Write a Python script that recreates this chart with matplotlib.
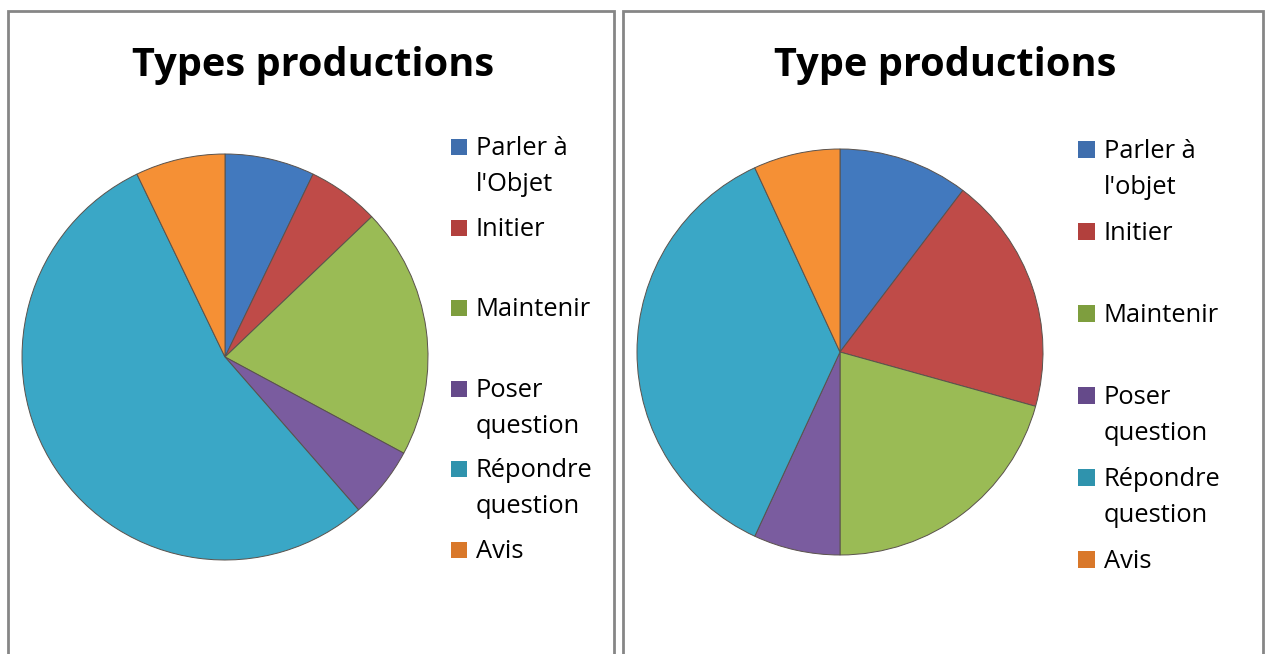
import matplotlib
matplotlib.use("Agg")
import matplotlib.pyplot as plt
from matplotlib.patches import Rectangle

categories_left = ["Parler à\nl'Objet", "Initier", "Maintenir", "Poser\nquestion", "Répondre\nquestion", "Avis"]
categories_right = ["Parler à\nl'objet", "Initier", "Maintenir", "Poser\nquestion", "Répondre\nquestion", "Avis"]
values_left = [5, 4, 14, 4, 38, 5]
values_right = [6, 11, 12, 4, 21, 4]
title_left = "Types productions"
title_right = "Type productions"
colors = ["#4279BE", "#BF4B48", "#9ABB55", "#7A5C9F", "#3AA7C6", "#F59035"]
marker_colors = ["#3F6EAD", "#B2403D", "#7E9E3E", "#654A8A", "#2F93AD", "#D9782A"]

W, H = 1265, 654
fig = plt.figure(figsize=(W / 100, H / 100), dpi=100)
fig.patch.set_facecolor("white")
FONT = "Open Sans"


def px_rect(x0, y0, x1, y1):
    return [x0 / W, 1 - y1 / H, (x1 - x0) / W, (y1 - y0) / H]


# panel frames
for (x0, x1) in [(8, 614), (623, 1263)]:
    fig.patches.append(Rectangle((x0 / W, -0.05), (x1 - x0) / W, 1 - 11 / H + 0.05,
                                 transform=fig.transFigure, fill=False,
                                 edgecolor="#868686", linewidth=2))


def draw_panel(cx, cy, r, values, labels, title, title_x, leg_x, msize, leg_y0, leg_dy):
    ax = fig.add_axes(px_rect(cx - r, cy - r, cx + r, cy + r))
    ax.pie(values, colors=colors, startangle=90, counterclock=False,
           radius=1.0, wedgeprops=dict(linewidth=0.7, edgecolor="#5a524c"))
    ax.set_xlim(-1.0, 1.0)
    ax.set_ylim(-1.0, 1.0)
    ax.set_aspect("equal")
    ax.axis("off")
    fig.text(title_x / W, 1 - 76 / H, title, ha="center", va="baseline",
             fontsize=28.6, fontweight="bold", family=FONT)
    for i, (lab, c) in enumerate(zip(labels, marker_colors)):
        base = leg_y0 + i * leg_dy
        fig.patches.append(Rectangle((leg_x / W, 1 - base / H), msize / W, msize / H,
                                     transform=fig.transFigure, facecolor=c,
                                     edgecolor="none"))
        for j, line in enumerate(lab.split("\n")):
            fig.text((leg_x + msize + 9) / W, 1 - (base + 36 * j) / H, line,
                     ha="left", va="baseline", fontsize=18.4, family=FONT)


draw_panel(225, 357, 203, values_left, categories_left, title_left, 313,
           451, 16, 155, 80.6)
draw_panel(840, 352, 203, values_right, categories_right, title_right, 945,
           1078, 17, 158, 82)

fig.savefig("out.png", dpi=100, facecolor="white")
